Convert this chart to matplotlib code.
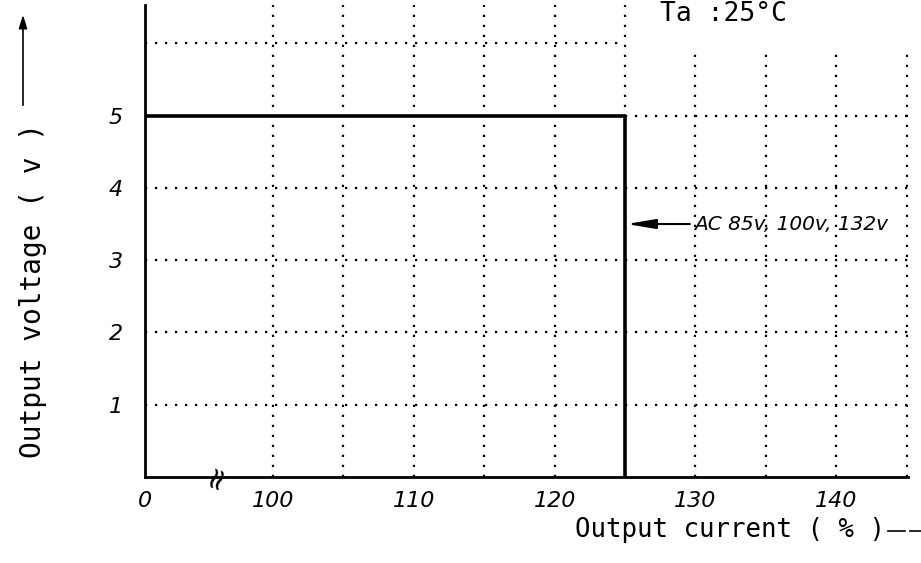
import matplotlib
matplotlib.use("Agg")
import matplotlib.pyplot as plt

# output characteristic (current in %, voltage in V)
current = [90.9, 125, 125]
voltage = [5, 5, 0]

x_ticks = [90.9, 100, 110, 120, 130, 140]
x_labels = ["0", "100", "110", "120", "130", "140"]
y_ticks = [1, 2, 3, 4, 5]
y_labels = ["1", "2", "3", "4", "5"]
grid_x = [100, 105, 110, 115, 120, 125, 130, 135, 140, 145]
grid_y = [1, 2, 3, 4, 5, 6]

XMIN, XMAX = 90.9, 145.1
YMIN, YMAX = 0, 6.53
MONO = "DejaVu Sans Mono"

fig = plt.figure(figsize=(9.21, 5.63), dpi=100)
ax = fig.add_axes([145 / 921, 1 - 477 / 563, (908 - 145) / 921, (477 - 5) / 563])
ax.set_xlim(XMIN, XMAX)
ax.set_ylim(YMIN, YMAX)

dot = dict(color="black", linestyle=(0, (1, 3.5)), linewidth=1.6, zorder=1)
for y in grid_y:
    ax.hlines(y, XMIN, 125 if y > 5 else XMAX, **dot)
for x in grid_x:
    ax.vlines(x, YMIN, YMAX if x <= 125 else 5.85, **dot)

ax.plot(current, voltage, color="black", linewidth=2.6, zorder=3)

for s in ["top", "right"]:
    ax.spines[s].set_visible(False)
for s in ["left", "bottom"]:
    ax.spines[s].set_linewidth(2)

ax.set_xticks(x_ticks)
ax.set_xticklabels(x_labels, fontsize=16, style="italic")
ax.set_yticks(y_ticks)
ax.set_yticklabels(y_labels, fontsize=16, style="italic")
ax.tick_params(axis="x", length=0, pad=10)
ax.tick_params(axis="y", length=0, pad=16)

# axis break mark
ax.text(96, 0, "≈", rotation=70, fontsize=22, ha="center", va="center")

ax.annotate("AC 85v, 100v, 132v", xy=(125.1, 3.5), xytext=(129.9, 3.5),
            fontsize=14.5, style="italic", va="center", ha="left",
            arrowprops=dict(arrowstyle="-|>,head_length=1.2,head_width=0.2",
                            color="black", linewidth=1.5, shrinkA=1, shrinkB=0))

fig.text(660 / 921, 1 - 1 / 563, "Ta :25°C", fontsize=19, family=MONO,
         va="top", ha="left")

fig.text(575 / 921, 1 - 530 / 563, "Output current ( % )", fontsize=18.5,
         family=MONO, va="center", ha="left")
fig.add_artist(plt.Line2D([888 / 921, 905 / 921], [1 - 531 / 563] * 2,
                          color="black", linewidth=1.2))
fig.add_artist(plt.Line2D([910 / 921, 921 / 921], [1 - 531 / 563] * 2,
                          color="black", linewidth=1.2))

fig.text(33 / 921, 1 - 290 / 563, "Output voltage ( v )", fontsize=20,
         family=MONO, rotation=90, va="center", ha="center")
fig.add_artist(matplotlib.patches.FancyArrowPatch(
    (23 / 921, 1 - 108 / 563), (23 / 921, 1 - 12 / 563),
    transform=fig.transFigure, arrowstyle="-|>,head_length=8,head_width=2.5",
    color="black", linewidth=1.2))

fig.savefig("out.png", dpi=100)
